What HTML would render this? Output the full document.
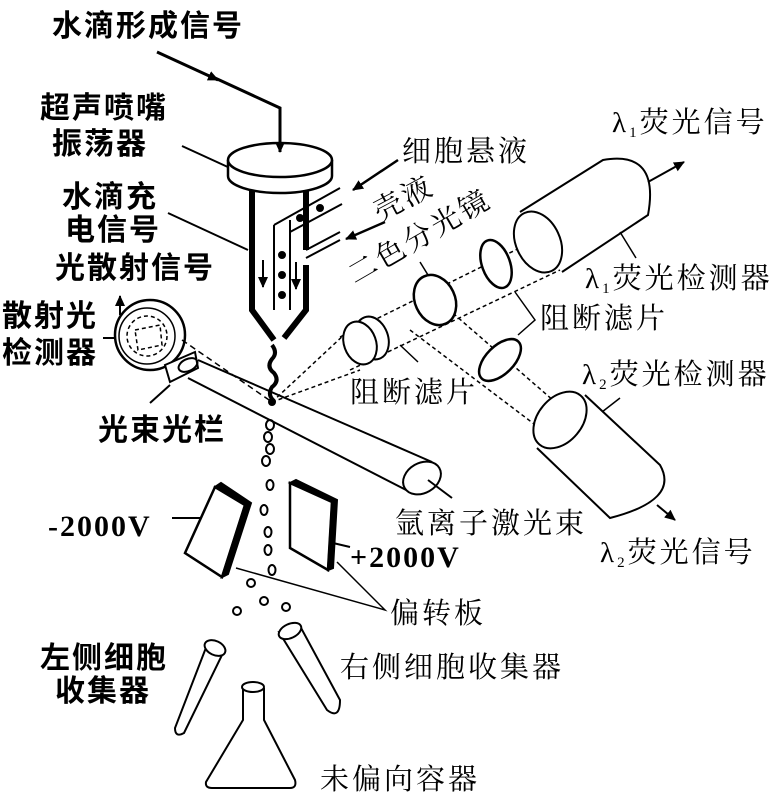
<!DOCTYPE html>
<html><head><meta charset="utf-8"><style>
html,body{margin:0;padding:0;background:#fff;}
svg{display:block}
.b{font-family:"Liberation Sans","Noto Sans CJK SC",sans-serif;font-weight:bold;fill:#000}
.s{font-family:"Liberation Serif","Noto Serif CJK SC",serif;fill:#000}
</style></head><body>
<svg width="770" height="793" viewBox="0 0 770 793" xmlns="http://www.w3.org/2000/svg">
<defs><marker id="a" markerWidth="12" markerHeight="12" refX="10" refY="6" orient="auto" markerUnits="userSpaceOnUse"><path d="M0,1 L11,6 L0,11 Z" fill="#000" stroke="none"/></marker></defs>
<g stroke="#000" fill="none" stroke-width="2">
<line x1="182" y1="146" x2="230" y2="168"/>
<!-- disk -->
<path d="M228,160 L228,176 A52,17 0 0 0 332,176 L332,160" fill="#fff" stroke-width="2.5"/>
<ellipse cx="280" cy="160" rx="52" ry="17" fill="#fff" stroke-width="2.5"/>
<!-- top signal arrow -->
<line x1="157" y1="52" x2="218" y2="80" stroke-width="3" marker-end="url(#a)"/>
<polyline points="215,78 280,108 280,152" stroke-width="3" marker-end="url(#a)"/>
<!-- nozzle -->
<path d="M252,190 L252,310 L274,340" stroke-width="6"/>
<path d="M306,190 L306,250" stroke-width="6"/>
<path d="M306,265 L306,310 L284,338" stroke-width="6"/>
<path d="M274,225 L274,310 M290,220 L290,310" stroke-width="2"/>
<path d="M274,225 L340,188 M290,232 L342,204 M306,258 L340,240 M306,250 L340,232" stroke-width="2"/>
<circle cx="282" cy="255" r="3" fill="#000"/><circle cx="282" cy="275" r="3" fill="#000"/><circle cx="282" cy="295" r="3" fill="#000"/><circle cx="300" cy="218" r="3" fill="#000"/><circle cx="320" cy="208" r="3" fill="#000"/>
<line x1="263" y1="260" x2="263" y2="287" marker-end="url(#a)"/>
<line x1="296" y1="262" x2="296" y2="289" marker-end="url(#a)"/>
<line x1="168" y1="213" x2="248" y2="250"/>
<!-- fluid arrows -->
<line x1="398" y1="160" x2="353" y2="190" stroke-width="2.5" marker-end="url(#a)"/>
<line x1="385" y1="222" x2="346" y2="239" stroke-width="2.5" marker-end="url(#a)"/>
<!-- droplets stream -->
<path d="M272,345 q6,8 0,14 q-6,8 2,14 q6,8 -2,14 q-5,8 2,14" stroke-width="4"/>
<circle cx="272" cy="402" r="3" fill="#000"/>
<g stroke-width="2">
<ellipse cx="270" cy="425" rx="4" ry="5"/><ellipse cx="268" cy="437" rx="4" ry="5"/><ellipse cx="270" cy="449" rx="4" ry="5"/><ellipse cx="266" cy="461" rx="4" ry="5"/>
<ellipse cx="270" cy="485" rx="3.5" ry="5"/><ellipse cx="264" cy="510" rx="3.5" ry="5"/><ellipse cx="268" cy="532" rx="3.5" ry="5"/><ellipse cx="268" cy="550" rx="3.5" ry="5"/><ellipse cx="272" cy="570" rx="3.5" ry="5"/>
<circle cx="251" cy="583" r="4"/><circle cx="264" cy="601" r="4"/><circle cx="237" cy="611" r="4"/><circle cx="286" cy="607" r="4"/>
</g>
<!-- scatter detector -->
<circle cx="150" cy="335" r="35" stroke-width="2.5" fill="#fff"/>
<circle cx="147" cy="336" r="28" stroke-width="1.5"/>
<circle cx="147" cy="336" r="20" stroke-width="1.5" stroke-dasharray="4,3"/>
<path d="M135,330 L160,325 L162,345 L138,350 Z" stroke-width="1.5" stroke-dasharray="4,3"/>
<line x1="120" y1="315" x2="120" y2="296" marker-end="url(#a)"/>
<line x1="103" y1="338" x2="115" y2="338"/>
<path d="M165,365 L195,352 L198,368 L170,382 Z" fill="#fff"/>
<ellipse cx="188" cy="365" rx="10" ry="6" transform="rotate(-25 188 365)"/>
<line x1="182" y1="340" x2="272" y2="402" stroke-dasharray="6,4" stroke-width="1.5"/>
<line x1="150" y1="403" x2="170" y2="385"/>
<!-- laser beam -->
<line x1="198" y1="360" x2="432" y2="462"/>
<line x1="188" y1="378" x2="412" y2="493"/>
<ellipse cx="422" cy="478" rx="20" ry="15" transform="rotate(-30 422 478)" fill="#fff"/>
<line x1="428" y1="480" x2="452" y2="498"/>
<!-- dotted optical paths -->
<g stroke-width="1.5" stroke-dasharray="4,3">
<line x1="272" y1="402" x2="360" y2="320"/>
<line x1="272" y1="402" x2="360" y2="370"/>
<line x1="340" y1="337" x2="560" y2="228"/>
<line x1="350" y1="370" x2="560" y2="270"/>
<line x1="432" y1="295" x2="585" y2="428"/>
<line x1="410" y1="330" x2="575" y2="455"/>
</g>
<!-- lenses -->
<ellipse cx="372" cy="338" rx="16" ry="22" transform="rotate(-20 372 338)" fill="#fff"/>
<ellipse cx="360" cy="343" rx="16" ry="22" transform="rotate(-20 360 343)" fill="#fff"/>
<line x1="400" y1="345" x2="418" y2="362" stroke-width="1.5"/>
<ellipse cx="435" cy="300" rx="20" ry="26" transform="rotate(-25 435 300)" fill="#fff" stroke-width="2.5"/>
<line x1="420" y1="262" x2="428" y2="275" stroke-width="1.5"/>
<ellipse cx="496" cy="264" rx="14" ry="25" transform="rotate(-20 496 264)" fill="#fff" stroke-width="2.5"/>
<ellipse cx="500" cy="360" rx="14" ry="26" transform="rotate(45 500 360)" fill="#fff" stroke-width="2.5"/>
<polyline points="515,292 535,320 518,335" stroke-width="1.5"/>
<!-- lambda1 detector -->
<path d="M520,212 L603,160 Q660,150 648,215 L562,272" fill="#fff"/>
<ellipse cx="538" cy="242" rx="22" ry="32" transform="rotate(-25 538 242)" fill="#fff"/>
<line x1="620" y1="232" x2="636" y2="258" stroke-width="1.5"/>
<line x1="648" y1="182" x2="684" y2="162" marker-end="url(#a)"/>
<!-- lambda2 detector -->
<path d="M585,395 L660,465 Q680,500 610,518 L537,448" fill="#fff"/>
<ellipse cx="560" cy="420" rx="22" ry="32" transform="rotate(40 560 420)" fill="#fff"/>
<line x1="602" y1="412" x2="620" y2="398" stroke-width="1.5"/>
<line x1="657" y1="505" x2="675" y2="520" marker-end="url(#a)"/>
<!-- plates -->
<path d="M185,553 L215,487 L245,505 L222,577 Z" fill="#fff" stroke-width="2.5"/>
<path d="M215,487 L221,483 L251,503 L228,574 L222,577 L245,505 Z" fill="#000"/>
<path d="M290,483 L332,502 L328,570 L290,548 Z" fill="#fff" stroke-width="2.5"/>
<path d="M290,483 L296,480 L337,500 L333,568 L328,570 L332,502 Z" fill="#000"/>
<line x1="172" y1="518" x2="200" y2="518"/>
<line x1="333" y1="543" x2="350" y2="547"/>
<polyline points="236,568 385,610 337,562" stroke-width="1.5"/>
<!-- tubes -->
<path d="M207,645 L224,651 L184,733 Q175,738 175,728 Z" fill="#fff"/>
<ellipse cx="215" cy="648" rx="11" ry="7" transform="rotate(25 215 648)" fill="#fff"/>
<path d="M279,632 L300,626 L340,700 Q340,720 327,710 Z" fill="#fff"/>
<ellipse cx="290" cy="631" rx="12" ry="7" transform="rotate(-25 290 631)" fill="#fff"/>
<path d="M243,688 L243,720 L206,782 Q205,788 212,788 L290,788 Q297,788 295,780 L264,720 L264,688" fill="#fff"/>
<ellipse cx="253" cy="687" rx="11" ry="5" fill="#fff"/>
</g>
<!-- text -->
<g class="b" font-size="30" letter-spacing="2">
<text x="52" y="36">水滴形成信号</text>
<text x="40" y="118">超声喷嘴</text>
<text x="52" y="154">振荡器</text>
<text x="62" y="207">水滴充</text>
<text x="65" y="240">电信号</text>
<text x="55" y="278">光散射信号</text>
<text x="2" y="326">散射光</text>
<text x="2" y="363">检测器</text>
<text x="98" y="440">光束光栏</text>
<text x="40" y="668">左侧细胞</text>
<text x="55" y="701">收集器</text>
</g>
<g class="s" font-size="29" letter-spacing="3">
<text x="402" y="161">细胞悬液</text>
<text x="380" y="222" transform="rotate(-28 380 222)">壳液</text>
<text x="355" y="285" transform="rotate(-30 355 285)">二色分光镜</text>
<text x="585" y="288">λ<tspan font-size="15" dy="5">1</tspan><tspan dy="-5">荧光检测器</tspan></text>
<text x="612" y="132">λ<tspan font-size="15" dy="5">1</tspan><tspan dy="-5">荧光信号</tspan></text>
<text x="540" y="328">阻断滤片</text>
<text x="582" y="384">λ<tspan font-size="15" dy="5">2</tspan><tspan dy="-5">荧光检测器</tspan></text>
<text x="350" y="402">阻断滤片</text>
<text x="395" y="533">氩离子激光束</text>
<text x="600" y="562">λ<tspan font-size="15" dy="5">2</tspan><tspan dy="-5">荧光信号</tspan></text>
<text x="390" y="623">偏转板</text>
<text x="340" y="677">右侧细胞收集器</text>
<text x="320" y="789">未偏向容器</text>
</g>
<g class="s" font-size="30" font-weight="bold" letter-spacing="2">
<text x="48" y="536">-2000V</text>
<text x="350" y="567">+2000V</text>
</g>
</svg>
</body></html>
